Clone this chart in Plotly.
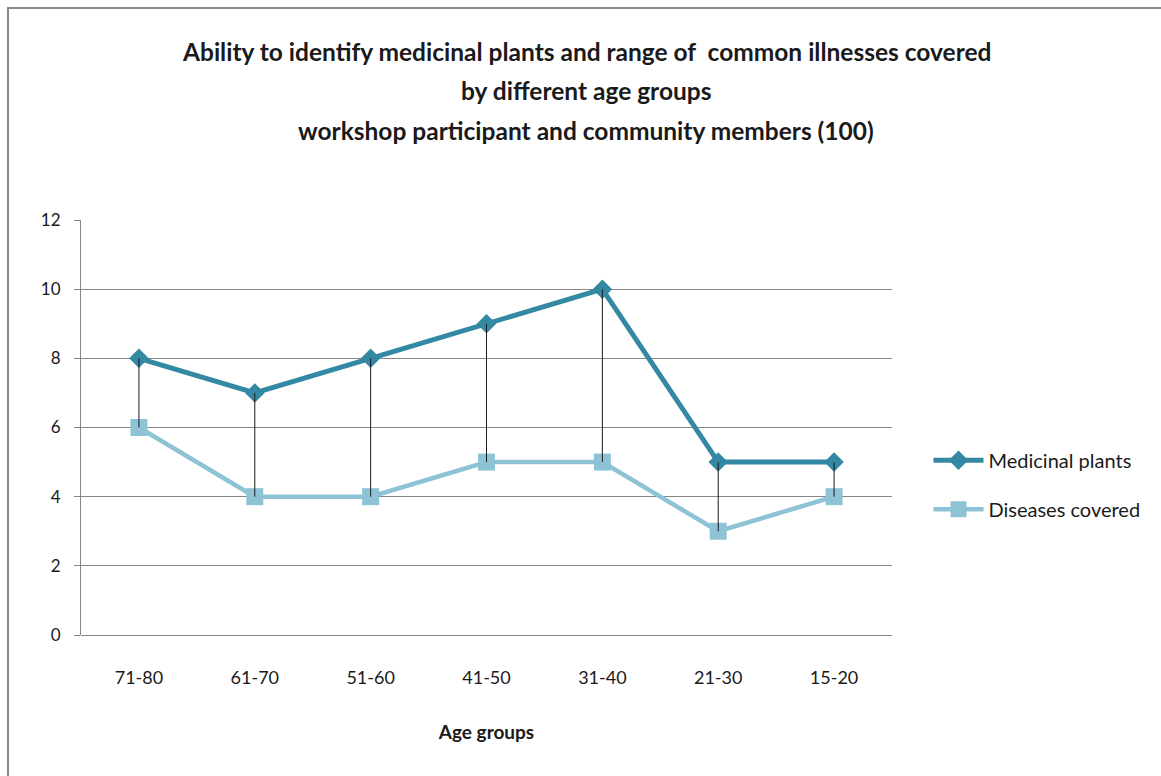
import plotly.graph_objects as go

age_groups = ["71-80", "61-70", "51-60", "41-50", "31-40", "21-30", "15-20"]
medicinal_plants = [8, 7, 8, 9, 10, 5, 5]
diseases_covered = [6, 4, 4, 5, 5, 3, 4]
y_ticks = [0, 2, 4, 6, 8, 10, 12]

title_lines = [
    "Ability to identify medicinal plants and range of  common illnesses covered",
    "by different age groups",
    "workshop participant and community members (100)",
]

FONT = "Lato, Open Sans, sans-serif"
DARK = "#3389A3"
LIGHT = "#8EC3D5"

fig = go.Figure()

fig.add_trace(go.Scatter(
    x=age_groups, y=medicinal_plants, name="Medicinal plants",
    mode="lines+markers", legendgroup="a",
    line=dict(color=DARK, width=5),
    marker=dict(symbol="diamond", size=15, color=DARK),
))
fig.add_trace(go.Scatter(
    x=age_groups, y=diseases_covered, name="Diseases covered",
    mode="lines+markers", legendgroup="b",
    line=dict(color=LIGHT, width=4.5),
    marker=dict(symbol="square", size=17, color=LIGHT),
))

# high-low connectors between the two series at each age group
hl_x, hl_y = [], []
for cat, hi, lo in zip(age_groups, medicinal_plants, diseases_covered):
    hl_x += [cat, cat, None]
    hl_y += [max(hi, lo), min(hi, lo), None]
fig.add_trace(go.Scatter(
    x=hl_x, y=hl_y, mode="lines", showlegend=False, hoverinfo="skip",
    line=dict(color="#1a1a1a", width=1),
))

fig.update_layout(
    width=1161, height=776,
    margin=dict(l=81, r=269, t=220, b=141),
    paper_bgcolor="white", plot_bgcolor="white",
    font=dict(family=FONT, size=16, color="#1a1a1a"),
    showlegend=True,
    legend=dict(
        x=1.045, y=0.362, xanchor="left", yanchor="middle",
        font=dict(family=FONT, size=20, color="#1a1a1a"),
        tracegroupgap=20, itemwidth=50,
        bgcolor="rgba(0,0,0,0)",
    ),
    xaxis=dict(
        type="category", range=[-0.5, 6.5],
        showgrid=False, showline=False, ticks="", zeroline=False,
        tickfont=dict(family=FONT, size=18), ticklabelstandoff=30,
        title=dict(text="<b>Age groups</b>", font=dict(family=FONT, size=19), standoff=38),
    ),
    yaxis=dict(
        range=[0, 12], tickvals=y_ticks, ticktext=[str(v) for v in y_ticks],
        showgrid=True, gridcolor="#868686", gridwidth=1,
        showline=True, linecolor="#868686", linewidth=1,
        ticks="outside", ticklen=6, tickcolor="#868686",
        zeroline=True, zerolinecolor="#868686", zerolinewidth=1,
        tickfont=dict(family=FONT, size=17), ticklabelstandoff=10,
    ),
)

for i, line in enumerate(title_lines):
    fig.add_annotation(
        text=f"<b>{line}</b>", xref="paper", yref="paper",
        x=0.623, y=1 + (168 - 39 * i) / 415, xanchor="center", yanchor="middle",
        showarrow=False, font=dict(family=FONT, size=24.5, color="#1a1a1a"),
    )

# outer chart frame
fig.add_shape(
    type="rect", xref="paper", yref="paper",
    x0=-73 / 811, x1=1.4, y0=-0.5, y1=1 + 212 / 415,
    line=dict(color="#8a8a8a", width=2), fillcolor="rgba(0,0,0,0)", layer="below",
)

fig.write_html("out.html")
